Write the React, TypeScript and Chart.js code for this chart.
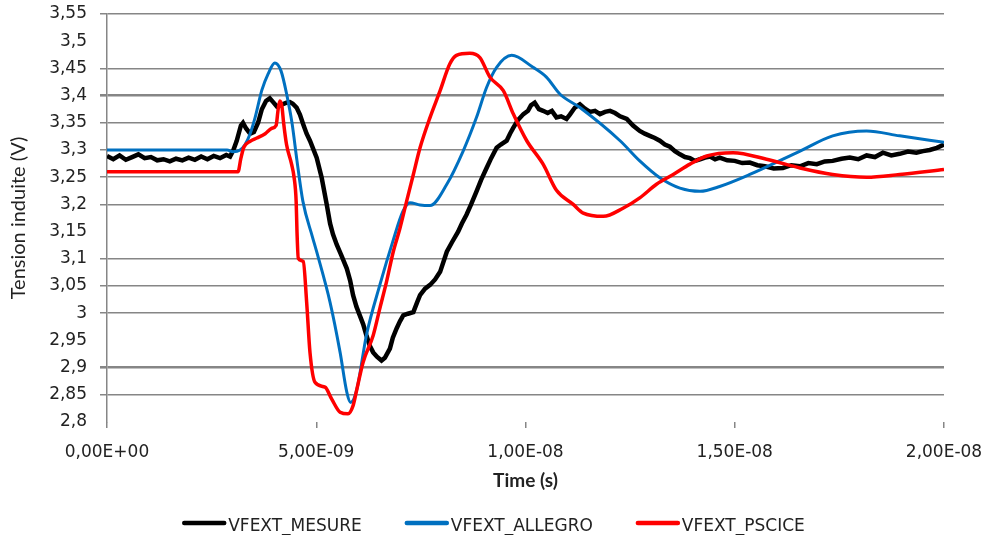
import React, { useEffect, useRef } from "react";
import { Chart, registerables } from "chart.js";

Chart.register(...registerables);

// ---- Data (time in ns, values in V) ----
const mesureT = [
  0, 0.15, 0.3, 0.45, 0.6, 0.75, 0.9, 1.05, 1.2, 1.35, 1.5, 1.65, 1.8, 1.95, 2.1, 2.25, 2.4, 2.55, 2.7, 2.85,
  2.94, 3.02, 3.1, 3.2, 3.25, 3.32, 3.42, 3.51, 3.61, 3.7, 3.8, 3.89, 3.97, 4.06, 4.16, 4.29, 4.37, 4.44, 4.53,
  4.61, 4.69, 4.77, 4.85, 5.01, 5.13, 5.25, 5.33, 5.4, 5.49, 5.59, 5.73, 5.81, 5.88, 5.96, 6.04, 6.12, 6.2,
  6.28, 6.36, 6.45, 6.56, 6.64, 6.76, 6.83, 6.92, 7.0, 7.08, 7.19, 7.32, 7.41, 7.48, 7.6, 7.72, 7.84, 7.96,
  8.12, 8.24, 8.39, 8.48, 8.59, 8.7, 8.83, 8.94, 9.07, 9.18, 9.31, 9.41, 9.55, 9.63, 9.71, 9.82, 9.95, 10.06,
  10.13, 10.22, 10.32, 10.42, 10.53, 10.63, 10.74, 10.85, 10.98, 11.06, 11.18, 11.3, 11.42, 11.54, 11.66,
  11.78, 11.9, 12.02, 12.14, 12.26, 12.42, 12.57, 12.73, 12.85, 12.97, 13.09, 13.21, 13.33, 13.45, 13.57,
  13.69, 13.81, 13.93, 14.05, 14.17, 14.29, 14.41, 14.53, 14.64, 14.82, 15.0, 15.18, 15.36, 15.54, 15.72,
  15.93, 16.15, 16.35, 16.56, 16.76, 16.96, 17.15, 17.34, 17.55, 17.75, 17.95, 18.15, 18.35, 18.54, 18.74,
  18.94, 19.14, 19.34, 19.5, 19.66, 19.83, 20.0,
];
const mesureV = [
  3.289, 3.283, 3.29, 3.282, 3.287, 3.292, 3.285, 3.287, 3.281, 3.283, 3.279, 3.284, 3.281, 3.286, 3.282, 3.288,
  3.283, 3.289, 3.285, 3.291, 3.288, 3.3, 3.317, 3.345, 3.35, 3.34, 3.33, 3.333, 3.35, 3.375, 3.39, 3.395,
  3.388, 3.38, 3.383, 3.387, 3.388, 3.385, 3.378, 3.365, 3.347, 3.33, 3.317, 3.286, 3.249, 3.2, 3.165, 3.145,
  3.126, 3.108, 3.082, 3.06, 3.033, 3.012, 2.996, 2.98, 2.959, 2.94, 2.928, 2.92, 2.913, 2.918, 2.935, 2.955,
  2.972, 2.985, 2.996, 2.999, 3.002, 3.02, 3.033, 3.045, 3.052, 3.062, 3.076, 3.113, 3.13, 3.15, 3.165, 3.181,
  3.2, 3.224, 3.245, 3.267, 3.285, 3.304, 3.31, 3.317, 3.33, 3.341, 3.355, 3.366, 3.372, 3.382, 3.387, 3.375,
  3.372, 3.368, 3.372, 3.36, 3.362, 3.357, 3.365, 3.378, 3.384, 3.376, 3.37, 3.372, 3.366, 3.37, 3.372, 3.368,
  3.362, 3.357, 3.345, 3.335, 3.33, 3.326, 3.322, 3.317, 3.31, 3.306, 3.298, 3.292, 3.287, 3.285, 3.28, 3.283,
  3.286, 3.288, 3.283, 3.286, 3.281, 3.28, 3.276, 3.277, 3.272, 3.27, 3.266, 3.267, 3.272, 3.27, 3.276, 3.274,
  3.279, 3.28, 3.284, 3.286, 3.283, 3.29, 3.287, 3.295, 3.29, 3.293, 3.297, 3.295, 3.298, 3.3, 3.304, 3.31,
];

const allegroT = [
  0, 2.87, 3.01, 3.18, 3.3, 3.42, 3.54, 3.7, 3.85, 4.01, 4.16, 4.3, 4.42, 4.54, 4.68, 4.91, 5.01, 5.33, 5.57,
  5.73, 5.82, 5.97, 6.2, 6.52, 6.83, 7.07, 7.24, 7.48, 7.72, 8.12, 8.51, 8.83, 9.07, 9.31, 9.67, 10.18, 10.5,
  10.82, 11.3, 12.26, 12.73, 13.21, 13.69, 14.17, 14.64, 15.36, 16.56, 17.34, 18.15, 18.94, 20.0,
];
const allegroV = [
  3.3, 3.3, 3.297, 3.3, 3.31, 3.33, 3.36, 3.41, 3.44, 3.46, 3.445, 3.4, 3.35, 3.28, 3.206, 3.14, 3.113, 3.02,
  2.928, 2.855, 2.836, 2.86, 2.96, 3.052, 3.132, 3.187, 3.203, 3.199, 3.198, 3.237, 3.298, 3.36, 3.415, 3.452,
  3.474, 3.452, 3.434, 3.403, 3.378, 3.317, 3.28, 3.249, 3.23, 3.224, 3.233, 3.255, 3.298, 3.326, 3.335, 3.326,
  3.314,
];

const pspiceT = [
  0, 3.13, 3.2, 3.27, 3.42, 3.58, 3.78, 3.94, 4.04, 4.09, 4.13, 4.18, 4.22, 4.29, 4.41, 4.47, 4.52, 4.54, 4.57,
  4.69, 4.77, 4.85, 4.97, 5.21, 5.37, 5.57, 5.76, 5.88, 5.97, 6.12, 6.36, 6.52, 6.68, 6.84, 7.0, 7.16, 7.32,
  7.48, 7.72, 7.96, 8.19, 8.35, 8.67, 8.91, 9.15, 9.47, 9.71, 10.03, 10.42, 10.74, 11.14, 11.38, 11.86, 12.33,
  12.73, 13.13, 13.53, 13.93, 14.33, 14.96, 15.76, 16.56, 17.34, 18.15, 18.94, 20.0,
];
const pspiceV = [
  3.26, 3.26, 3.285, 3.305, 3.316, 3.322, 3.33, 3.34, 3.345, 3.375, 3.39, 3.38, 3.35, 3.31, 3.274, 3.25, 3.205,
  3.15, 3.101, 3.095, 3.021, 2.928, 2.873, 2.864, 2.842, 2.818, 2.815, 2.83, 2.86, 2.91, 2.959, 3.009, 3.058,
  3.113, 3.156, 3.206, 3.255, 3.304, 3.36, 3.409, 3.458, 3.474, 3.478, 3.47, 3.434, 3.409, 3.366, 3.317, 3.274,
  3.226, 3.2, 3.184, 3.178, 3.193, 3.212, 3.237, 3.255, 3.274, 3.289, 3.295, 3.283, 3.267, 3.255, 3.25, 3.255,
  3.264,
];

const seriesNames = ["VFEXT_MESURE", "VFEXT_ALLEGRO", "VFEXT_PSCICE"];
const seriesColors = ["#000000", "#0070C0", "#FF0000"];

const xTickValues = [0, 5, 10, 15, 20];
const yMin = 2.8;
const yMax = 3.55;
const yStep = 0.05;
const hiddenGrid = [350, 315, 295, 280];
const thickGrid = [340, 290];

const toPoints = (t: number[], v: number[]) => t.map((x, i) => ({ x, y: v[i] }));

const fmtX = (v: number) => {
  if (Math.abs(v) < 1e-6) return "0,00E+00";
  let m = v;
  let e = 9;
  if (v >= 10 - 1e-6) {
    m = v / 10;
    e = 8;
  }
  return m.toFixed(2).replace(".", ",") + "E-" + String(e).padStart(2, "0");
};
const fmtY = (v: number) => String(Math.round(v * 100) / 100).replace(".", ",");

const FONT = "'DejaVu Sans', Verdana, sans-serif";
const TITLE_FONT = "Lato, 'DejaVu Sans', sans-serif";
const TXT = "#222222";
const GRID = "#868686";

const zeroPad = (s: any) => {
  s.paddingTop = 0;
  s.paddingBottom = 0;
  s.paddingLeft = 0;
  s.paddingRight = 0;
};

const legendPlugin = {
  id: "bottomLegend",
  afterDraw(chart: any) {
    const ctx = chart.ctx as CanvasRenderingContext2D;
    ctx.save();
    ctx.font = `17px ${FONT}`;
    const boxW = 44;
    const gapText = 2;
    const gapItem = 43;
    const items = chart.data.datasets.map((ds: any) => ({
      label: ds.label as string,
      color: ds.borderColor as string,
      w: boxW + gapText + ctx.measureText(ds.label).width,
    }));
    const total = items.reduce((s: number, it: any) => s + it.w, 0) + gapItem * (items.length - 1);
    let x = (chart.width - total) / 2;
    const lineY = chart.height - 12;
    const baseY = chart.height - 4.5;
    items.forEach((it: any) => {
      ctx.strokeStyle = it.color;
      ctx.lineWidth = 4.5;
      ctx.lineCap = "round";
      ctx.beginPath();
      ctx.moveTo(x + 2, lineY);
      ctx.lineTo(x + boxW - 2, lineY);
      ctx.stroke();
      ctx.fillStyle = TXT;
      ctx.textBaseline = "alphabetic";
      ctx.textAlign = "left";
      ctx.fillText(it.label, x + boxW + gapText, baseY);
      x += it.w + gapItem;
    });
    ctx.restore();
  },
};

export default function App() {
  const ref = useRef<HTMLCanvasElement | null>(null);

  useEffect(() => {
    if (!ref.current) return;
    const chart = new Chart(ref.current, {
      type: "line",
      data: {
        datasets: [
          {
            label: seriesNames[0],
            data: toPoints(mesureT, mesureV),
            borderColor: seriesColors[0],
            backgroundColor: seriesColors[0],
            borderWidth: 4.5,
            pointRadius: 0,
            tension: 0,
            order: 2,
          },
          {
            label: seriesNames[1],
            data: toPoints(allegroT, allegroV),
            borderColor: seriesColors[1],
            backgroundColor: seriesColors[1],
            borderWidth: 3,
            pointRadius: 0,
            cubicInterpolationMode: "monotone",
            order: 1,
          },
          {
            label: seriesNames[2],
            data: toPoints(pspiceT, pspiceV),
            borderColor: seriesColors[2],
            backgroundColor: seriesColors[2],
            borderWidth: 3.5,
            pointRadius: 0,
            cubicInterpolationMode: "monotone",
            order: 0,
          },
        ],
      },
      options: {
        responsive: false,
        animation: false,
        devicePixelRatio: 1,
        layout: { padding: { left: 0, top: 14, right: 43, bottom: 28 } },
        plugins: { legend: { display: false }, tooltip: { enabled: false } },
        scales: {
          x: {
            type: "linear",
            min: xTickValues[0],
            max: xTickValues[xTickValues.length - 1],
            afterBuildTicks: (s: any) => {
              s.ticks = xTickValues.map((v) => ({ value: v }));
            },
            ticks: {
              callback: (v: any) => fmtX(Number(v)),
              font: { family: FONT, size: 17 },
              color: TXT,
              padding: 14,
              maxRotation: 0,
              autoSkip: false,
            },
            grid: {
              drawOnChartArea: false,
              drawTicks: true,
              tickLength: 6,
              color: GRID,
              lineWidth: 1.5,
            },
            border: { display: false },
            title: {
              display: true,
              text: "Time (s)",
              font: { family: TITLE_FONT, size: 19, weight: "bold" },
              color: TXT,
              padding: { top: 0, bottom: 15 },
            },
            afterFit: (s: any) => {
              s.height = 85;
              zeroPad(s);
            },
          },
          y: {
            type: "linear",
            min: yMin,
            max: yMax,
            ticks: {
              stepSize: yStep,
              callback: (v: any) => fmtY(Number(v)),
              font: { family: FONT, size: 17 },
              color: TXT,
              padding: 13,
              autoSkip: false,
            },
            grid: {
              tickLength: 7,
              color: (c: any) => {
                const k = c.tick ? Math.round(c.tick.value * 100) : -1;
                return hiddenGrid.includes(k) ? "rgba(0,0,0,0)" : GRID;
              },
              lineWidth: (c: any) => {
                const k = c.tick ? Math.round(c.tick.value * 100) : -1;
                return thickGrid.includes(k) ? 2.6 : 1.5;
              },
            },
            border: { display: true, color: GRID, width: 1.5 },
            title: {
              display: true,
              text: "Tension induite (V)",
              font: { family: TITLE_FONT, size: 20 },
              color: TXT,
              padding: { top: 7, bottom: 0 },
            },
            afterFit: (s: any) => {
              s.width = 107;
              zeroPad(s);
            },
          },
        },
      },
      plugins: [legendPlugin],
    });
    return () => chart.destroy();
  }, []);

  return (
    <div style={{ position: "fixed", left: 0, top: 0, width: 987, height: 535, background: "#fff" }}>
      <canvas ref={ref} width={987} height={535} style={{ display: "block" }} />
    </div>
  );
}
